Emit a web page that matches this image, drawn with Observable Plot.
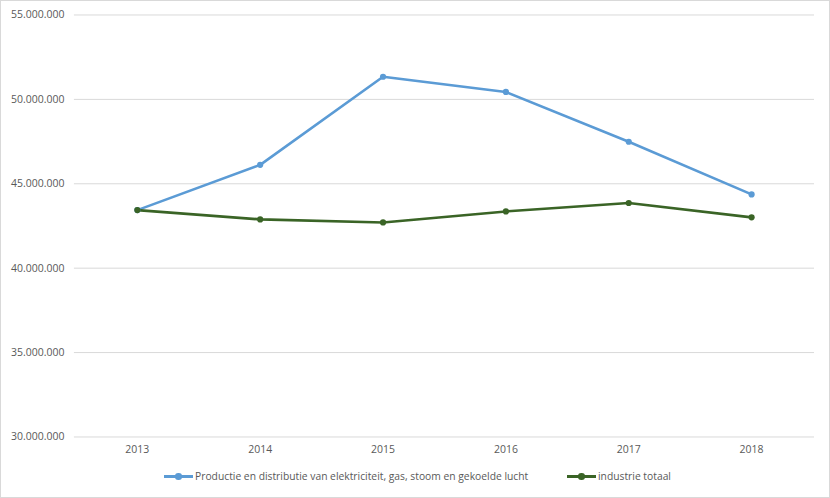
<!DOCTYPE html>
<html>
<head>
<meta charset="utf-8">
<script src="https://cdn.jsdelivr.net/npm/d3@7"></script>
<script src="https://cdn.jsdelivr.net/npm/@observablehq/plot@0.6"></script>
<style>
  html, body { margin: 0; padding: 0; background: #fff; }
  #wrap { position: relative; width: 830px; height: 498px; box-sizing: border-box; border: 1px solid #d9d9d9; overflow: hidden; font-family: "Open Sans", sans-serif; }
  #chart { position: absolute; left: -1px; top: -1px; }
  #legend { position: absolute; top: 466px; left: 0; width: 830px; height: 20px; font-size: 10.3px; color: #595959; }
  .item { position: absolute; top: 0; display: flex; align-items: center; height: 18px; white-space: nowrap; }
  .sw { position: relative; width: 29px; height: 18px; margin-right: 2px; }
  .sw .ln { position: absolute; left: 0; right: 0; top: 8px; height: 2.5px; }
  .sw .dt { position: absolute; left: 11px; top: 6px; width: 6.5px; height: 6.5px; border-radius: 50%; }
</style>
</head>
<body>
<div id="wrap">
  <div id="chart"></div>
  <div id="legend"></div>
</div>
<script>
const years = ["2013", "2014", "2015", "2016", "2017", "2018"];
const seriesNames = [
  "Productie en distributie van elektriciteit, gas, stoom en gekoelde lucht",
  "industrie totaal"
];
const productieValues = [43440000, 46120000, 51340000, 50440000, 47490000, 44370000];
const industrieValues = [43440000, 42890000, 42710000, 43360000, 43860000, 43010000];
const yTicks = [30000000, 35000000, 40000000, 45000000, 50000000, 55000000];
const colors = ["#5b9bd5", "#3a6426"];

const data = [];
years.forEach((y, i) => {
  data.push({year: y, value: productieValues[i], series: seriesNames[0]});
  data.push({year: y, value: industrieValues[i], series: seriesNames[1]});
});

const nl = d3.formatLocale({decimal: ",", thousands: ".", grouping: [3], currency: ["€", ""]});
const fmt = nl.format(",");

const chart = Plot.plot({
  width: 830,
  height: 461,
  marginLeft: 74,
  marginRight: 15,
  marginTop: 14.5,
  marginBottom: 24,
  style: {fontFamily: "Open Sans, sans-serif", fontSize: "10.5px", color: "#595959", background: "transparent"},
  x: {type: "point", domain: years, padding: 0.5, label: null, tickSize: 0, tickPadding: 9},
  y: {domain: [30000000, 55000000], ticks: yTicks, tickFormat: fmt, label: null, tickSize: 0, tickPadding: 10},
  color: {domain: seriesNames, range: colors},
  marks: [
    Plot.gridY(yTicks, {stroke: "#d9d9d9", strokeOpacity: 1, strokeWidth: 1}),
    Plot.axisY({ticks: yTicks, tickFormat: fmt, tickSize: 0, tickPadding: 10, label: null, fill: "#595959"}),
    Plot.axisX({tickSize: 0, tickPadding: 9, label: null, fill: "#595959"}),
    Plot.line(data, {x: "year", y: "value", z: "series", stroke: "series", strokeWidth: 2.6, curve: "linear"}),
    Plot.dot(data, {x: "year", y: "value", fill: "series", r: 3.1})
  ]
});
document.getElementById("chart").appendChild(chart);

const legend = document.getElementById("legend");
const legendX = [163, 566];
seriesNames.forEach((name, i) => {
  const item = document.createElement("div");
  item.className = "item";
  item.style.left = legendX[i] + "px";
  item.innerHTML = `<div class="sw"><div class="ln" style="background:${colors[i]}"></div><div class="dt" style="background:${colors[i]}"></div></div><span>${name}</span>`;
  legend.appendChild(item);
});
</script>
</body>
</html>
